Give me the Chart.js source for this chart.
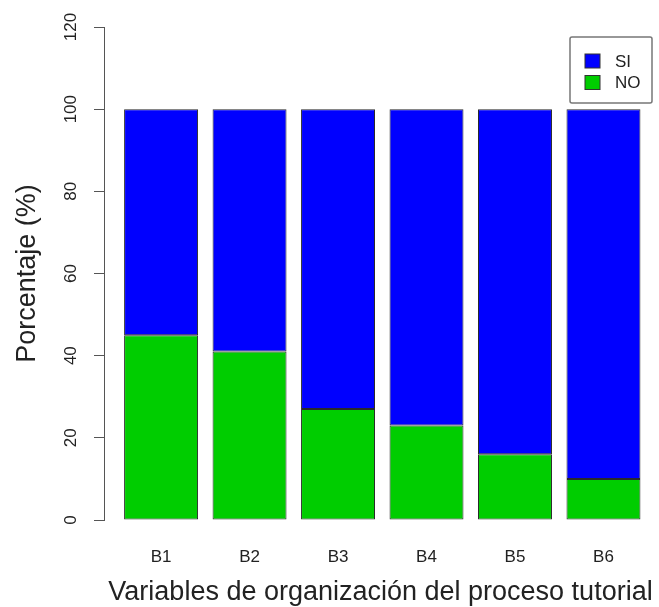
<!DOCTYPE html>
<html>
<head>
<meta charset="utf-8">
<script src="https://cdn.jsdelivr.net/npm/chart.js@4.4.1/dist/chart.umd.min.js"></script>
<style>
  html, body { margin: 0; padding: 0; background: #fff; }
  #wrap { width: 659px; height: 607px; position: relative; }
</style>
</head>
<body>
<div id="wrap"><canvas id="c"></canvas></div>
<script>
const categories = ['B1', 'B2', 'B3', 'B4', 'B5', 'B6'];
const noValues = [45, 41, 27, 23, 16, 10];
const siValues = [55, 59, 73, 77, 84, 90];
const yTicks = [0, 20, 40, 60, 80, 100, 120];
const seriesNames = ['SI', 'NO'];
const xTitle = 'Variables de organización del proceso tutorial';
const yTitle = 'Porcentaje (%)';

const FONT = '"Liberation Sans", Arial, sans-serif';
const TEXT = '#222';
const positions = categories.map((_, i) => i + 1);

const yTickLabels = {
  id: 'yTickLabels',
  afterDraw(chart) {
    const ys = chart.scales.y;
    const ctx = chart.ctx;
    ctx.save();
    ctx.font = '17px ' + FONT;
    ctx.fillStyle = TEXT;
    ctx.textAlign = 'center';
    ctx.textBaseline = 'middle';
    yTicks.forEach(v => {
      const py = ys.getPixelForValue(v);
      ctx.save();
      ctx.translate(chart.chartArea.left - 33, py);
      ctx.rotate(-Math.PI / 2);
      ctx.fillText(String(v), 0, 0);
      ctx.restore();
    });
    ctx.restore();
  }
};

const boxLegend = {
  id: 'boxLegend',
  afterDraw(chart) {
    const ctx = chart.ctx;
    const a = chart.chartArea;
    const w = 82, h = 66;
    const x0 = a.right - 5 - w, y0 = a.top + 10;
    ctx.save();
    ctx.strokeStyle = '#777';
    ctx.lineWidth = 1.5;
    ctx.beginPath();
    if (ctx.roundRect) ctx.roundRect(x0, y0, w, h, 2); else ctx.rect(x0, y0, w, h);
    ctx.stroke();
    const items = chart.data.datasets.slice().reverse();
    ctx.font = '17px ' + FONT;
    ctx.textAlign = 'left';
    ctx.textBaseline = 'middle';
    items.forEach((ds, i) => {
      const cy = y0 + 24 + i * 21.5;
      ctx.fillStyle = ds.backgroundColor;
      ctx.fillRect(x0 + 15, cy - 7, 15, 14);
      ctx.strokeStyle = '#333';
      ctx.lineWidth = 1;
      ctx.strokeRect(x0 + 15, cy - 7, 15, 14);
      ctx.fillStyle = TEXT;
      ctx.fillText(ds.label, x0 + 45, cy + 1);
    });
    ctx.restore();
  }
};

new Chart(document.getElementById('c'), {
  type: 'bar',
  data: {
    datasets: [
      {
        label: seriesNames[1],
        data: positions.map((p, i) => ({ x: p, y: noValues[i] })),
        backgroundColor: '#00CD00',
        borderColor: '#2a2a2a',
        borderWidth: 1,
        borderSkipped: false
      },
      {
        label: seriesNames[0],
        data: positions.map((p, i) => ({ x: p, y: siValues[i] })),
        backgroundColor: '#0000FF',
        borderColor: '#2a2a2a',
        borderWidth: 1,
        borderSkipped: false
      }
    ]
  },
  options: {
    responsive: true,
    maintainAspectRatio: false,
    animation: false,
    layout: { padding: { top: 27, right: 2, left: 0, bottom: 0 } },
    datasets: { bar: { categoryPercentage: 1, barPercentage: 0.836 } },
    plugins: {
      legend: { display: false },
      tooltip: { enabled: false }
    },
    scales: {
      x: {
        type: 'linear',
        stacked: true,
        offset: false,
        min: 0.355,
        max: 6.605,
        afterBuildTicks(scale) { scale.ticks = positions.map(v => ({ value: v })); },
        afterFit(scale) { scale.height = 87; },
        grid: { display: false, drawTicks: false },
        border: { display: false },
        ticks: {
          autoSkip: false,
          maxRotation: 0,
          padding: 27,
          color: TEXT,
          font: { family: FONT, size: 17 },
          callback: (v) => categories[positions.indexOf(v)] ?? ''
        },
        title: {
          display: true,
          text: xTitle,
          color: TEXT,
          font: { family: FONT, size: 27, lineHeight: 1 },
          padding: { top: 0, bottom: 1 }
        }
      },
      y: {
        stacked: true,
        min: 0,
        max: 120,
        afterBuildTicks(scale) { scale.ticks = yTicks.map(v => ({ value: v })); },
        afterFit(scale) { scale.width = 104; },
        grid: { drawOnChartArea: false, drawTicks: true, tickLength: 10, color: '#555', lineWidth: 1 },
        border: { display: true, color: '#555', width: 1 },
        ticks: { display: false },
        title: {
          display: true,
          text: yTitle,
          color: TEXT,
          font: { family: FONT, size: 27, lineHeight: 1 },
          padding: { top: 14.5, bottom: 0 }
        }
      }
    }
  },
  plugins: [yTickLabels, boxLegend]
});
</script>
</body>
</html>
